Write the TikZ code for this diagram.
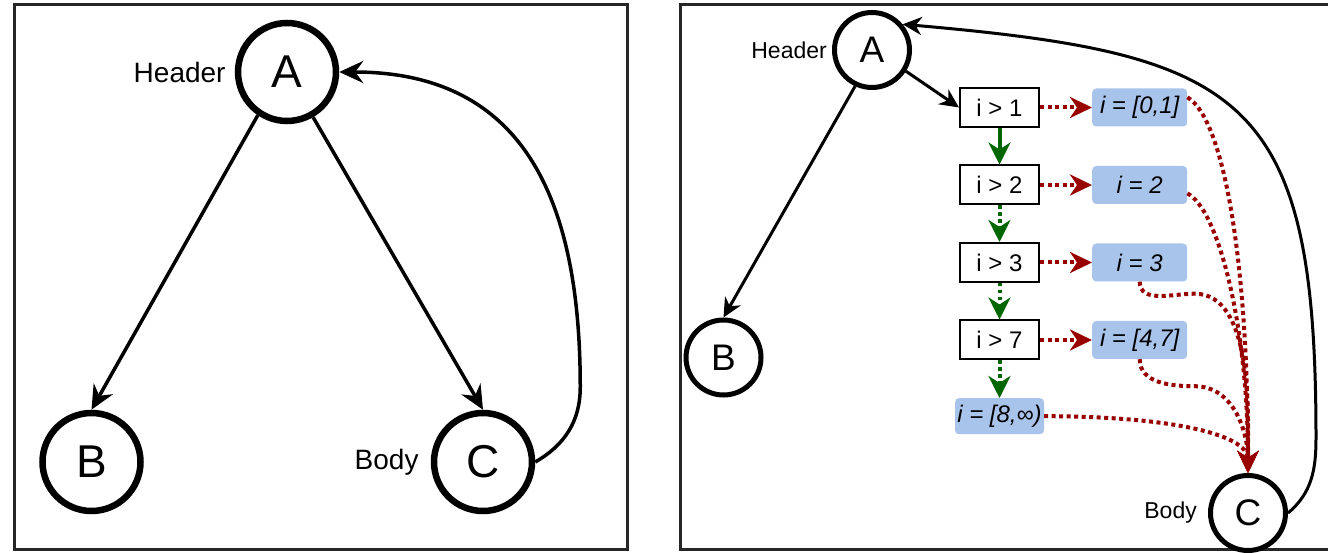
\documentclass[tikz,border=0pt]{standalone}
\usepackage{fontspec}
\setmainfont{Liberation Sans}
\usetikzlibrary{positioning,arrows.meta}
\definecolor{condblue}{HTML}{A9C4EB}
\definecolor{falsered}{HTML}{990000}
\definecolor{truegreen}{HTML}{006600}

\begin{document}
\begin{tikzpicture}[x=1pt, y=1pt,
    bigstate/.style={draw, circle, line width=6.5pt, minimum size=98pt,
      inner sep=0pt, font=\fontsize{46}{50}\selectfont},
    smallstate/.style={draw, circle, line width=5pt, minimum size=75pt,
      inner sep=0pt, font=\fontsize{37}{40}\selectfont},
    biglabel/.style={inner sep=0pt, font=\fontsize{28}{32}\selectfont},
    smalllabel/.style={inner sep=0pt, font=\fontsize{23}{26}\selectfont},
    testbox/.style={draw, line width=2pt, minimum width=79pt,
      minimum height=39pt, inner sep=0pt, font=\fontsize{24}{26}\selectfont},
    rangebox/.style={fill=condblue, rounded corners=4pt, minimum width=95pt,
      minimum height=38pt, inner sep=0pt,
      font=\fontsize{24}{26}\selectfont\itshape},
    bigedge/.style={line width=3.5pt,
      -{Stealth[length=24pt, width=22pt, inset=8pt]}},
    smalledge/.style={line width=3pt,
      -{Stealth[length=19pt, width=18pt, inset=6pt]}},
    truearrow/.style={truegreen, line width=4pt,
      -{Stealth[length=22pt, width=22pt, inset=7pt]}},
    falsearrow/.style={falsered, line width=4pt, dash pattern=on 4pt off 3.5pt,
      -{Stealth[length=22pt, width=21pt, inset=7pt]}}]
  \useasboundingbox (0,0) rectangle (1328,552);
  \draw[line width=3pt, black!85] (14,3) rectangle (627,547);
  \draw[line width=3pt, black!85] (680,3) rectangle (1331,547);

  % loop before
  \node[bigstate] (A) at (287,480) {A};
  \node[bigstate] (B) at (91.5,90) {B};
  \node[bigstate] (C) at (483,90) {C};
  \node[biglabel, left=9pt of A] (headerL) {Header};
  \node[biglabel, left=12pt of C] (bodyL) {Body};
  \draw[bigedge] (A.236) -- (B.north);
  \draw[bigedge] (A.-60) -- (C.north);
  \draw[bigedge] (C.east) to[out=30,in=-90] ++(45,75)
    to[out=90,in=0,looseness=1.2] (A.east);

  % loop after
  \node[smallstate] (A2) at (872,502) {A};
  \node[smallstate] (B2) at (723.5,194.5) {B};
  \node[smallstate] (C2) at (1248,39) {C};
  \node[smalllabel, left=5pt of A2] (headerR) {Header};
  \node[smalllabel, left=11pt of C2] (bodyR) {Body};

  \node[testbox] (t1) at (999.5,444.5) {i > 1};
  \node[testbox, below=36.5pt of t1] (t2) {i > 2};
  \node[testbox, below=36.5pt of t2] (t3) {i > 3};
  \node[testbox, below=36.5pt of t3] (t4) {i > 7};
  \node[rangebox, right=52pt of t1] (r1) {i = [0,1]};
  \node[rangebox, right=52pt of t2] (r2) {i = 2};
  \node[rangebox, right=52pt of t3] (r3) {i = 3};
  \node[rangebox, right=52pt of t4] (r4) {i = [4,7]};
  \node[rangebox, below=37.5pt of t4, minimum width=89pt,
    minimum height=36pt] (r5) {i = [8,∞)};

  \draw[smalledge] (A2.-32) -- (t1.west);
  \draw[smalledge] (A2.245) -- (B2.north);
  \draw[smalledge] (C2.east) to[out=40,in=-90] ++(28,75)
    to[out=90,in=-5,looseness=1.5] (A2.40);

  \draw[truearrow] (t1) -- (t2);
  \foreach \from/\to in {t2/t3, t3/t4, t4/r5}
    \draw[truearrow, dash pattern=on 3.5pt off 3.5pt] (\from) -- (\to);
  \foreach \i in {1,...,4}
    \draw[falsearrow] (t\i) -- (r\i);

  \draw[falsearrow] (r1.12) .. controls +(35,-20) and +(0,220) .. (C2.north);
  \draw[falsearrow] (r2.-10) .. controls +(30,-15) and +(0,150) .. (C2.north);
  \draw[falsearrow] (r3.south) to[out=-90,in=180] ++(55,-12)
    to[out=0,in=90,looseness=0.8] (C2.north);
  \draw[falsearrow] (r4.south) to[out=-90,in=180] ++(55,-27)
    to[out=0,in=90] (C2.north);
  \draw[falsearrow] (r5.east) .. controls +(120,0) and +(0,40) .. (C2.north);
\end{tikzpicture}
\end{document}
